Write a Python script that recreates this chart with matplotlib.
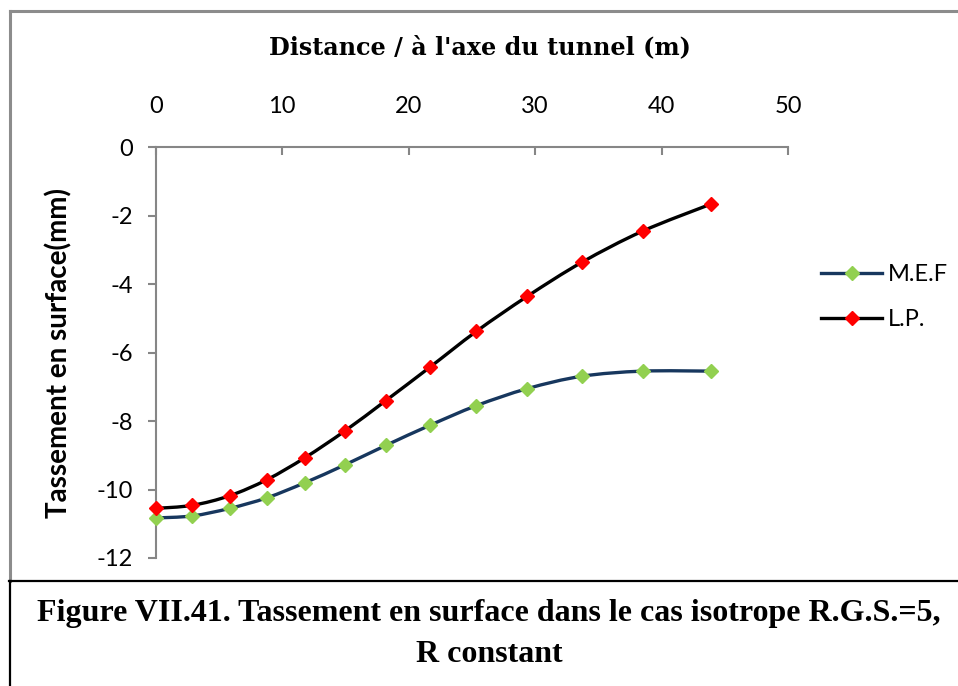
import matplotlib
matplotlib.use("Agg")
import matplotlib.pyplot as plt
from matplotlib.path import Path
from matplotlib.patches import PathPatch
from matplotlib.lines import Line2D
import numpy as np

# ---- data ----
distance = [0, 2.9, 5.85, 8.8, 11.8, 14.95, 18.2, 21.7, 25.35, 29.4, 33.7, 38.5, 43.9]
mef = [-10.83, -10.77, -10.55, -10.24, -9.80, -9.28, -8.71, -8.12, -7.55, -7.05, -6.69, -6.54, -6.54]
lp = [-10.55, -10.46, -10.18, -9.71, -9.07, -8.29, -7.40, -6.42, -5.38, -4.35, -3.36, -2.45, -1.66]
series_names = ["M.E.F", "L.P."]
x_ticks = [0, 10, 20, 30, 40, 50]
y_ticks = [0, -2, -4, -6, -8, -10, -12]
title = "Distance / à l'axe du tunnel (m)"
ylabel = "Tassement en surface(mm)"
caption_lines = ["Figure VII.41. Tassement en surface dans le cas isotrope R.G.S.=5,", "R constant"]

W, H = 958, 686
fig = plt.figure(figsize=(W / 100, H / 100), dpi=100)
fig.patch.set_facecolor("white")

def fx(px):
    return px / W

def fy(py):
    return 1 - py / H

ax_left, ax_right, ax_top, ax_bot = 155.7, 788.0, 147.3, 558.0
ax = fig.add_axes([fx(ax_left), fy(ax_bot), (ax_right - ax_left) / W, (ax_bot - ax_top) / H])
ax.set_xlim(0, 50)
ax.set_ylim(-12, 0)

def smooth_path(xs, ys):
    pts = np.column_stack([xs, ys]).astype(float)
    n = len(pts)
    verts = [pts[0]]
    codes = [Path.MOVETO]
    for i in range(n - 1):
        p0 = pts[i - 1] if i > 0 else pts[i]
        p1 = pts[i]
        p2 = pts[i + 1]
        p3 = pts[i + 2] if i + 2 < n else pts[i + 1]
        c1 = p1 + (p2 - p0) / 6.0
        c2 = p2 - (p3 - p1) / 6.0
        verts += [c1, c2, p2]
        codes += [Path.CURVE4] * 3
    return Path(verts, codes)

line_colors = ["#17375E", "#000000"]
marker_colors = ["#92D050", "#FF0000"]
handles = []
for ys, lc, mc, name in zip([mef, lp], line_colors, marker_colors, series_names):
    patch = PathPatch(smooth_path(distance, ys), facecolor="none", edgecolor=lc,
                      linewidth=2.4, capstyle="round", joinstyle="round", zorder=3)
    ax.add_patch(patch)
    ax.plot(distance, ys, linestyle="none", marker="D", markersize=7.5,
            markerfacecolor=mc, markeredgecolor=mc, zorder=4, clip_on=False)
    handles.append(Line2D([0], [0], color=lc, linewidth=2.4, marker="D",
                          markersize=7.5, markerfacecolor=mc, markeredgecolor=mc))

# axes styling
for s in ["right", "bottom"]:
    ax.spines[s].set_visible(False)
for s in ["top", "left"]:
    ax.spines[s].set_color("#868686")
    ax.spines[s].set_linewidth(1.5)

ax.xaxis.tick_top()
ax.set_xticks(x_ticks)
ax.set_xticklabels([str(v) for v in x_ticks])
ax.set_yticks(y_ticks)
ax.set_yticklabels([str(v) for v in y_ticks])
ax.tick_params(axis="x", direction="in", length=5.5, width=1.5, color="#868686",
               pad=22, labelsize=17, labelfontfamily="Lato")
ax.tick_params(axis="y", direction="out", length=5.5, width=1.5, color="#868686",
               pad=11, labelsize=17, labelfontfamily="Lato")

fig.text(fx(480), fy(47), title, ha="center", va="center", fontsize=17.2,
         fontweight="bold", family="DejaVu Serif")
fig.text(fx(59), fy(353), ylabel, ha="center", va="center", rotation=90,
         fontsize=20, fontweight="bold", family="Lato")

leg = fig.legend(handles=handles, labels=series_names, loc="center left",
                 bbox_to_anchor=(fx(821), fy(297)), frameon=False,
                 prop={"family": "Lato", "size": 17}, handlelength=2.6,
                 handletextpad=0.25, labelspacing=1.0, borderaxespad=0, borderpad=0)

# borders
gray = "#8C8C8C"
fig.add_artist(Line2D([fx(9.5), fx(958)], [fy(11), fy(11)], color=gray, linewidth=2.2,
                      transform=fig.transFigure))
fig.add_artist(Line2D([fx(9.5), fx(9.5)], [fy(11), fy(581)], color=gray, linewidth=2.2,
                      transform=fig.transFigure))
fig.add_artist(Line2D([fx(9), fx(958)], [fy(581), fy(581)], color="black", linewidth=1.6,
                      transform=fig.transFigure))
fig.add_artist(Line2D([fx(10), fx(10)], [fy(581), fy(686)], color="black", linewidth=1.6,
                      transform=fig.transFigure))

for text, yy in zip(caption_lines, [614, 655]):
    fig.text(fx(489), fy(yy), text, ha="center", va="center", fontsize=23,
             fontweight="bold", family="Liberation Serif")

fig.savefig("out.png", dpi=100, facecolor="white")
